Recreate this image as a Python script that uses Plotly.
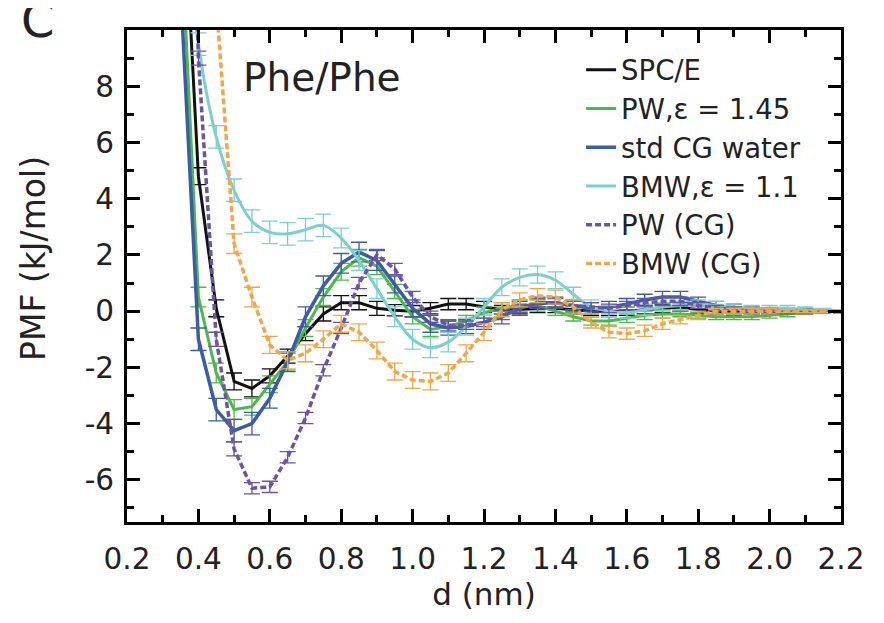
import plotly.graph_objects as go

# ---------------- data ----------------
d_nm = [0.35, 0.40, 0.45, 0.50, 0.55, 0.60, 0.65, 0.70, 0.75, 0.80,
        0.85, 0.90, 0.95, 1.00, 1.05, 1.10, 1.15, 1.20, 1.25, 1.30,
        1.35, 1.40, 1.45, 1.50, 1.55, 1.60, 1.65, 1.70, 1.75, 1.80,
        1.85, 1.90, 1.95, 2.00, 2.05, 2.10, 2.15, 2.20]

spce = [17.0, 4.8, 0.1, -2.5, -2.75, -2.3, -1.6, -0.8, -0.1, 0.3,
        0.3, 0.1, 0.03, 0.0, 0.1, 0.25, 0.25, 0.15, 0.05, 0.05,
        0.1, 0.1, 0.05, 0.0, 0.0, 0.0, 0.05, 0.1, 0.15, 0.05,
        0.0, -0.05, 0.0, 0.0, 0.0, 0.0, 0.0, 0.0]
spce_err = [0.3, 0.3, 0.3, 0.3, 0.3, 0.25, 0.25, 0.25, 0.25, 0.25,
            0.25, 0.25, 0.2, 0.2, 0.2, 0.2, 0.2, 0.2, 0.15, 0.15,
            0.15, 0.15, 0.15, 0.15, 0.15, 0.15, 0.15, 0.15, 0.15, 0.15,
            0.1, 0.1, 0.1, 0.1, 0.1, 0.1, 0.05, 0.05]

pw_eps = [14.0, 0.5, -2.2, -3.5, -3.4, -2.6, -1.8, -0.6, 0.5, 1.4,
          1.9, 1.6, 0.7, -0.2, -0.65, -0.55, -0.35, -0.05, 0.1, 0.2,
          0.2, 0.0, -0.2, -0.35, -0.35, -0.25, -0.15, -0.1, -0.1, -0.15,
          -0.2, -0.2, -0.2, -0.15, -0.1, -0.05, 0.0, 0.0]
pw_eps_err = [0.35, 0.35, 0.35, 0.35, 0.3, 0.3, 0.3, 0.3, 0.3, 0.3,
              0.3, 0.3, 0.25, 0.25, 0.25, 0.2, 0.2, 0.2, 0.2, 0.2,
              0.2, 0.15, 0.15, 0.15, 0.15, 0.15, 0.15, 0.15, 0.1, 0.1,
              0.1, 0.1, 0.1, 0.1, 0.1, 0.05, 0.05, 0.05]

std_cg = [11.5, -1.0, -3.5, -4.25, -4.0, -3.1, -1.8, -0.2, 0.9, 1.7,
          2.1, 1.8, 0.95, 0.1, -0.45, -0.6, -0.55, -0.4, -0.2, 0.1,
          0.3, 0.3, 0.2, 0.1, 0.15, 0.25, 0.4, 0.5, 0.5, 0.35,
          0.2, 0.1, 0.05, 0.0, 0.0, 0.0, 0.0, 0.0]
std_cg_err = [0.4, 0.4, 0.4, 0.4, 0.4, 0.35, 0.35, 0.35, 0.35, 0.35,
              0.35, 0.35, 0.3, 0.3, 0.3, 0.25, 0.25, 0.25, 0.25, 0.25,
              0.2, 0.2, 0.2, 0.2, 0.2, 0.2, 0.2, 0.2, 0.2, 0.15,
              0.15, 0.15, 0.1, 0.1, 0.1, 0.05, 0.05, 0.05]

bmw_eps = [16.0, 9.5, 6.2, 4.3, 3.2, 2.8, 2.75, 2.9, 3.05, 2.6,
           1.8, 0.8, -0.2, -1.0, -1.3, -1.1, -0.55, 0.15, 0.85, 1.2,
           1.3, 1.1, 0.6, 0.15, 0.0, -0.05, 0.05, 0.15, 0.2, 0.25,
           0.2, 0.15, 0.1, 0.1, 0.1, 0.05, 0.05, 0.0]
bmw_eps_err = [0.4, 0.4, 0.4, 0.4, 0.4, 0.4, 0.4, 0.4, 0.4, 0.35,
               0.35, 0.35, 0.35, 0.35, 0.35, 0.35, 0.3, 0.3, 0.3, 0.3,
               0.3, 0.3, 0.25, 0.25, 0.2, 0.2, 0.2, 0.15, 0.15, 0.15,
               0.15, 0.1, 0.1, 0.1, 0.1, 0.1, 0.05, 0.05]

pw_cg = [30.0, 9.0, -1.0, -4.9, -6.3, -6.25, -5.2, -3.8, -2.1, -0.6,
         1.0, 2.0, 1.5, 0.5, -0.2, -0.5, -0.5, -0.4, -0.15, 0.1,
         0.3, 0.3, 0.2, 0.15, 0.1, 0.2, 0.3, 0.35, 0.35, 0.2,
         0.1, 0.05, 0.0, 0.0, 0.0, 0.0, 0.0, 0.0]
pw_cg_err = [0.25, 0.25, 0.25, 0.25, 0.2, 0.2, 0.2, 0.2, 0.2, 0.2,
             0.2, 0.2, 0.2, 0.2, 0.2, 0.2, 0.15, 0.15, 0.15, 0.15,
             0.15, 0.15, 0.15, 0.15, 0.15, 0.15, 0.15, 0.15, 0.15, 0.1,
             0.1, 0.1, 0.1, 0.1, 0.05, 0.05, 0.05, 0.05]

bmw_cg = [28.0, 20.0, 11.0, 2.4, 0.5, -1.2, -1.75, -1.5, -1.0, -0.45,
          -0.75, -1.4, -2.15, -2.45, -2.5, -2.2, -1.5, -0.75, 0.05, 0.4,
          0.55, 0.5, 0.15, -0.4, -0.75, -0.8, -0.7, -0.45, -0.3, -0.15,
          0.0, 0.0, 0.0, 0.0, 0.0, 0.0, 0.0, 0.0]
bmw_cg_err = [0.35, 0.35, 0.35, 0.35, 0.35, 0.3, 0.3, 0.3, 0.3, 0.3,
              0.3, 0.3, 0.3, 0.3, 0.3, 0.3, 0.3, 0.3, 0.25, 0.25,
              0.25, 0.25, 0.25, 0.2, 0.2, 0.2, 0.2, 0.2, 0.15, 0.15,
              0.1, 0.1, 0.1, 0.1, 0.05, 0.05, 0.05, 0.05]

series_names = ["SPC/E", "PW,\u03b5 = 1.45", "std CG water", "BMW,\u03b5 = 1.1",
                "PW (CG)", "BMW (CG)"]

x_tickvals = [0.2, 0.4, 0.6, 0.8, 1.0, 1.2, 1.4, 1.6, 1.8, 2.0, 2.2]
x_ticktext = ["0.2", "0.4", "0.6", "0.8", "1.0", "1.2", "1.4", "1.6", "1.8", "2.0", "2.2"]
x_minor = [0.3, 0.5, 0.7, 0.9, 1.1, 1.3, 1.5, 1.7, 1.9, 2.1]
y_tickvals = [-6, -4, -2, 0, 2, 4, 6, 8]
y_ticktext = ["-6", "-4", "-2", "0", "2", "4", "6", "8"]
y_minor = [-7, -5, -3, -1, 1, 3, 5, 7, 9]

# ---------------- styling ----------------
FONT = "DejaVu Sans, Liberation Sans, Arial, sans-serif"
TXT = "#222222"
styles = [
    dict(color="#111111", dash="solid", width=3, shape="linear"),
    dict(color="#4cb84a", dash="solid", width=3, shape="linear"),
    dict(color="#3b5ca7", dash="solid", width=3.5, shape="linear"),
    dict(color="#7ccfcf", dash="solid", width=3, shape="spline"),
    dict(color="#6a54a3", dash="6px,3px", width=3.5, shape="linear"),
    dict(color="#f3a646", dash="6px,3px", width=3.5, shape="linear"),
]
ys = [spce, pw_eps, std_cg, bmw_eps, pw_cg, bmw_cg]
errs = [spce_err, pw_eps_err, std_cg_err, bmw_eps_err, pw_cg_err, bmw_cg_err]

fig = go.Figure()
for name, y, e, st in zip(series_names, ys, errs, styles):
    fig.add_trace(go.Scatter(
        x=d_nm, y=y, name=name, mode="lines",
        line=dict(color=st["color"], dash=st["dash"], width=st["width"],
                  shape=st["shape"]),
        error_y=dict(type="data", array=e, visible=True, color=st["color"],
                     thickness=1.3, width=8),
    ))

axis_common = dict(
    showline=True, linewidth=3, linecolor="black", mirror="allticks",
    ticks="inside", ticklen=13, tickwidth=3, tickcolor="black",
    showgrid=False, zeroline=False, ticklabeloverflow="allow",
    tickfont=dict(family=FONT, size=29.5, color=TXT),
)

fig.update_xaxes(
    range=[0.2, 2.2], tickvals=x_tickvals, ticktext=x_ticktext,
    minor=dict(tickvals=x_minor, ticks="inside", ticklen=7, tickwidth=3,
               tickcolor="black", showgrid=False),
    ticklabelstandoff=9,
    title=dict(text="d (nm)", font=dict(family=FONT, size=31, color=TXT),
               standoff=5),
    **axis_common,
)
fig.update_yaxes(
    range=[-7.5, 10], tickvals=y_tickvals, ticktext=y_ticktext,
    minor=dict(tickvals=y_minor, ticks="inside", ticklen=7, tickwidth=3,
               tickcolor="black", showgrid=False),
    ticklabelstandoff=4,
    **axis_common,
)

fig.add_annotation(text="PMF (kJ/mol)", textangle=-90, xref="paper", yref="paper",
                   x=-0.13, y=0.535, xanchor="center", yanchor="middle",
                   showarrow=False, font=dict(family=FONT, size=33, color=TXT))
fig.add_annotation(text="Phe/Phe", xref="x", yref="y", x=0.745, y=8.3,
                   xanchor="center", yanchor="middle", showarrow=False,
                   font=dict(family=FONT, size=39, color=TXT))
fig.add_annotation(text="C", xref="paper", yref="paper", x=-0.125, y=1.02,
                   xanchor="center", yanchor="middle", showarrow=False,
                   font=dict(family=FONT, size=48, color=TXT))

# the page body has an 8px margin, so the figure is 16px smaller and the
# margins are reduced by 8px to place the axes box where the reference has it
fig.update_layout(
    width=868, height=607,
    margin=dict(l=119, r=23, t=22, b=77),
    paper_bgcolor="white", plot_bgcolor="white",
    showlegend=True,
    legend=dict(x=0.636, y=0.969, xanchor="left", yanchor="top",
                bgcolor="rgba(0,0,0,0)", borderwidth=0,
                font=dict(family=FONT, size=27.5, color=TXT),
                itemwidth=30, tracegroupgap=0),
)

fig.write_html("out.html")
